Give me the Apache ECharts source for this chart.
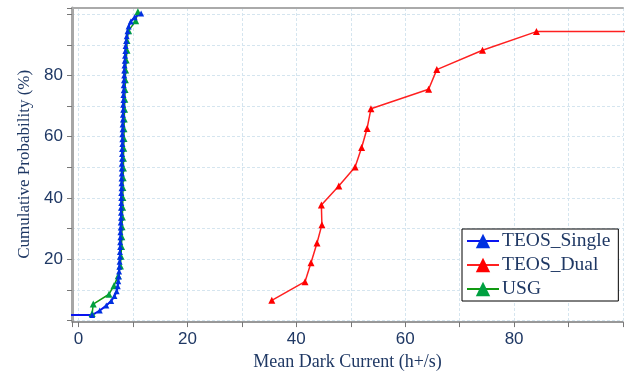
<!DOCTYPE html>
<html>
<head>
<meta charset="utf-8">
<script src="https://cdn.jsdelivr.net/npm/echarts@6/dist/echarts.min.js"></script>
<style>
  html, body { margin: 0; padding: 0; background: #fff; }
  #main { width: 626px; height: 376px; }
</style>
</head>
<body>
<div id="main"></div>
<script>
// data: [mean dark current, cumulative %]
var teosSingle = [
  [-3, 1.8], [2.5, 1.8], [3.9, 3.3], [5.1, 4.9], [6.0, 6.4], [6.6, 8.0], [7.0, 9.6], [7.2, 11.2],
  [7.3, 12.8], [7.4, 14.4], [7.45, 16.0], [7.5, 17.6], [7.55, 19.2], [7.6, 20.8], [7.6, 22.4],
  [7.65, 24.0], [7.65, 25.6], [7.7, 27.2], [7.7, 28.8], [7.75, 30.4], [7.75, 32.0], [7.8, 33.6],
  [7.8, 35.2], [7.8, 36.8], [7.85, 38.4], [7.85, 40.0], [7.85, 41.6], [7.9, 43.2], [7.9, 44.8],
  [7.9, 46.4], [7.95, 48.0], [7.95, 49.6], [7.95, 51.2], [8.0, 52.8], [8.0, 54.4], [8.0, 56.0],
  [8.05, 57.6], [8.05, 59.2], [8.05, 60.8], [8.1, 62.4], [8.1, 64.0], [8.15, 65.6], [8.15, 67.2],
  [8.2, 68.8], [8.2, 70.4], [8.25, 72.0], [8.25, 73.6], [8.3, 75.2], [8.3, 76.8], [8.35, 78.4],
  [8.4, 80.0], [8.4, 81.6], [8.45, 83.2], [8.5, 84.8], [8.55, 86.4], [8.6, 88.0], [8.65, 89.6],
  [8.75, 91.2], [8.85, 92.8], [9.0, 94.4], [9.2, 96.0], [9.6, 97.6], [10.3, 99.0], [11.5, 100.2]
];
var teosDual = [
  [35.5, 6.6], [41.6, 12.7], [42.7, 18.9], [43.8, 25.3], [44.7, 31.3], [44.6, 37.7], [47.8, 43.9],
  [50.8, 50.1], [52.0, 56.5], [53.0, 62.7], [53.7, 69.1], [64.3, 75.5], [65.8, 81.9], [74.2, 88.2],
  [84.1, 94.3], [102, 94.3]
];
var usg = [
  [2.5, 2.3], [2.7, 5.4], [5.6, 8.6], [6.5, 11.4], [7.3, 14.6], [7.7, 17.8], [7.8, 21.0], [7.9, 24.2],
  [7.95, 27.4], [8.0, 30.6], [8.05, 33.8], [8.1, 37.0], [8.15, 40.2], [8.15, 43.4], [8.2, 46.6],
  [8.25, 49.8], [8.25, 53.0], [8.3, 56.2], [8.35, 59.4], [8.35, 62.6], [8.4, 65.8], [8.45, 69.0],
  [8.5, 72.2], [8.55, 75.4], [8.6, 78.6], [8.65, 81.8], [8.75, 85.0], [8.9, 88.2], [8.9, 91.4],
  [9.2, 94.6], [10.5, 97.8], [10.9, 100.8]
];
var seriesNames = ["TEOS_Single", "TEOS_Dual", "USG"];
var xLabels = [0, 20, 40, 60, 80];
var yLabels = [20, 40, 60, 80];

var navy = "#1f3864";
var gridLine = { show: true, lineStyle: { color: "#d5e5ef", type: [3, 2], width: 1 } };

// the padding points (off the ends) only carry the flat line, no marker
function toData(arr) {
  return arr.map(function (p) {
    if (p[0] < 0 || p[0] > 100) return { value: p, symbol: "none" };
    return p;
  });
}

var myChart = echarts.init(document.getElementById("main"));

var option = {
  backgroundColor: "#fff",
  animation: false,
  grid: { left: 72, right: 2, top: 8, bottom: 49.5 },
  legend: {
    data: seriesNames,
    orient: "vertical",
    left: 462,
    top: 229,
    padding: [2, 8, 2, 4],
    itemGap: 4,
    itemWidth: 32,
    itemHeight: 18,
    backgroundColor: "#fff",
    borderColor: "#000",
    borderWidth: 1,
    textStyle: { fontFamily: "Liberation Serif", fontSize: 19.5, color: navy, padding: [0, 0, 0, -2] }
  },
  xAxis: [
    {
      type: "value",
      min: -1.2,
      max: 100,
      splitNumber: 10,
      offset: 1.5,
      name: "Mean Dark Current (h+/s)",
      nameLocation: "middle",
      nameGap: 28,
      nameTextStyle: { fontFamily: "Liberation Serif", fontSize: 18, color: navy },
      axisLine: { onZero: false, lineStyle: { color: "#777", width: 1.5 } },
      axisTick: { inside: false, length: 5, lineStyle: { color: "#777" } },
      axisLabel: {
        margin: 9,
        fontFamily: "Liberation Sans",
        fontSize: 17,
        color: navy,
        formatter: function (v) { return xLabels.indexOf(v) >= 0 ? String(v) : ""; }
      },
      splitLine: gridLine
    },
    {
      type: "value",
      position: "top",
      min: -1.2,
      max: 100,
      axisLine: { show: true, onZero: false, lineStyle: { color: "#aaa", width: 2 } },
      axisTick: { show: false },
      axisLabel: { show: false },
      splitLine: { show: false }
    }
  ],
  yAxis: {
    type: "value",
    min: 0,
    max: 102,
    interval: 10,
    name: "Cumulative Probability (%)",
    nameLocation: "middle",
    nameGap: 38,
    nameTextStyle: { fontFamily: "Liberation Serif", fontSize: 17, color: navy },
    axisLine: { show: true, onZero: false, lineStyle: { color: "#a6a6a6", width: 3 } },
    axisTick: { show: true, length: 5, lineStyle: { color: "#777" } },
    axisLabel: {
      margin: 9,
      fontFamily: "Liberation Sans",
      fontSize: 17,
      color: navy,
      formatter: function (v) { return yLabels.indexOf(v) >= 0 ? String(v) : ""; }
    },
    splitLine: gridLine
  },
  series: [
    {
      name: "USG",
      type: "line",
      data: toData(usg),
      symbol: "triangle",
      symbolSize: 7,
      lineStyle: { color: "#119a11", width: 1.5 },
      itemStyle: { color: "#00a040" }
    },
    {
      name: "TEOS_Dual",
      type: "line",
      data: toData(teosDual),
      symbol: "triangle",
      symbolSize: 7,
      lineStyle: { color: "#ff2020", width: 1.5 },
      itemStyle: { color: "#ff0000" }
    },
    {
      name: "TEOS_Single",
      type: "line",
      data: toData(teosSingle),
      symbol: "triangle",
      symbolSize: 6,
      lineStyle: { color: "#0a14f0", width: 2 },
      itemStyle: { color: "#0030e0" }
    }
  ]
};

myChart.setOption(option);
</script>
</body>
</html>
